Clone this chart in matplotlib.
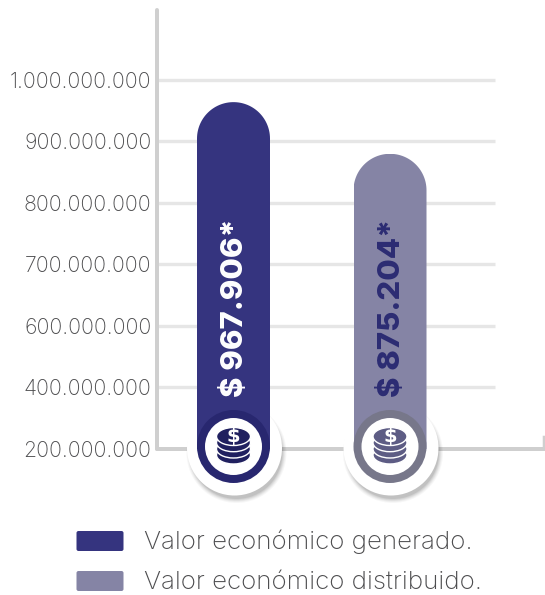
import numpy as np
import matplotlib
matplotlib.use('Agg')
import matplotlib.pyplot as plt
from matplotlib.patches import Circle, Ellipse, FancyBboxPatch, Polygon

# ejes no lineales: las etiquetas saltan de 200 en 200 abajo
tick_values = [200e6, 400e6, 600e6, 700e6, 800e6, 900e6, 1000e6]
tick_labels = ['200.000.000', '400.000.000', '600.000.000', '700.000.000',
               '800.000.000', '900.000.000', '1.000.000.000']
categories = ['Valor económico generado.', 'Valor económico distribuido.']
bar_values = [964e6, 880e6]
bar_labels = ['$ 967.906*', '$ 875.204*']

W, H = 545, 595
BLUE = '#35347f'
GREY = '#8584a5'
AXIS = '#cfcfcf'
GRID = '#e6e6e6'
TEXT = '#4d4d4f'
px = 72 / 100  # un pixel en puntos

plt.rcParams['font.family'] = ['Inter', 'Open Sans', 'DejaVu Sans']


def forward(v):
    v = np.asarray(v, dtype=float)
    i = np.interp(v, tick_values, np.arange(len(tick_values)))
    i = i + np.clip(v - tick_values[-1], 0, None) / 100e6
    return i + np.clip(v - tick_values[0], None, 0) / 200e6


def inverse(i):
    i = np.asarray(i, dtype=float)
    v = np.interp(i, np.arange(len(tick_values)), tick_values)
    v = v + np.clip(i - (len(tick_values) - 1), 0, None) * 100e6
    return v + np.clip(i, None, 0) * 200e6


fig = plt.figure(figsize=(W / 100, H / 100), dpi=100)
ax = fig.add_axes([157 / W, 1 - 449 / H, (W - 157) / W, (449 - 10) / H])
ax.set_yscale('function', functions=(forward, inverse))
ax.set_xlim(157, 545)
ax.set_ylim(200e6, 1113.8e6)
ax.set_yticks(tick_values)
ax.set_yticklabels(tick_labels, fontsize=15.3, color=TEXT, fontweight='light')
ax.yaxis.set_minor_locator(matplotlib.ticker.NullLocator())
ax.set_xticks([])
ax.tick_params(axis='y', length=0, pad=4)
for s in ['top', 'right']:
    ax.spines[s].set_visible(False)
for s in ['left', 'bottom']:
    ax.spines[s].set_color(AXIS)
    ax.spines[s].set_linewidth(4 * px)
    ax.spines[s].set_capstyle('round')
ax.hlines(tick_values[1:], 157, 495, color=GRID, lw=3.4 * px, zorder=1)

# capa en pixeles para lo decorativo
ov = fig.add_axes([0, 0, 1, 1])
ov.set_xlim(0, W)
ov.set_ylim(H, 0)
ov.axis('off')
ov.patch.set_alpha(0)

ov.plot([543.5, 543.5], [449, 437], color=AXIS, lw=2.5 * px, zorder=1)

centers = [233.5, 390]
bar_colors = [BLUE, GREY]
bw = 73
bars = ax.bar(centers, [v - 200e6 for v in bar_values], bottom=200e6, width=bw,
              color=bar_colors, zorder=3)
fig.canvas.draw()
theta = np.linspace(np.pi, 2 * np.pi, 60)
for rect, cx, val in zip(bars, centers, bar_values):
    top = H - ax.transData.transform((0, val))[1]
    arc = np.c_[cx + bw / 2 * np.cos(theta), top + bw / 2 + bw / 2 * np.sin(theta)]
    outline = np.vstack([arc, [cx + bw / 2, H], [cx - bw / 2, H]])
    clip = Polygon(outline, closed=True, transform=ov.transData, fc='none', ec='none')
    ov.add_patch(clip)
    rect.set_clip_path(clip)

ring_colors = ['#28276f', '#77778a']
coin_colors = ['#20205f', '#5d5c84']
text_colors = ['white', '#2c2c73']
for k, cx in enumerate(centers):
    # sombra y disco blanco, por debajo de la barra
    for r, a in zip([50, 49, 48, 47, 46], [.03, .04, .05, .06, .08]):
        ax.add_patch(Circle((cx + 3, 453), r, fc='black', ec='none', alpha=a, zorder=2.6,
                            transform=ov.transData, clip_on=False))
    ax.add_patch(Circle((cx + 1, 448), 47.5, fc='white', ec='none', zorder=2.7,
                        transform=ov.transData, clip_on=False))
    ov.add_patch(Circle((cx, 446.5), 36.5, fc=ring_colors[k], ec='none', zorder=6))
    ov.add_patch(Circle((cx, 446.5), 28.5, fc='white', ec='none', zorder=7))
    for y in [455, 449, 442.7, 436.5]:
        ov.add_patch(Ellipse((cx, y), 34, 18, fc=coin_colors[k], ec='white',
                             lw=1.4 * px, zorder=8))
    ov.text(cx, 436.5, '$', color='white', fontsize=14, fontweight='bold',
            family='DejaVu Sans', ha='center', va='center', zorder=9)
    ov.text(cx + 2, 397, bar_labels[k], color=text_colors[k], fontsize=22.4,
            fontweight='heavy', rotation=90, ha='center', va='bottom', zorder=9)

# leyenda
for y, c, name in zip([541, 581], bar_colors, categories):
    ov.add_patch(FancyBboxPatch((77, y - 9.5), 46, 19, boxstyle='round,pad=0.5,rounding_size=2',
                                fc=c, ec='none'))
    ov.text(144, y + 1, name, color=TEXT, fontsize=18.7, fontweight='light', va='center')

fig.savefig('out.png', dpi=100)
